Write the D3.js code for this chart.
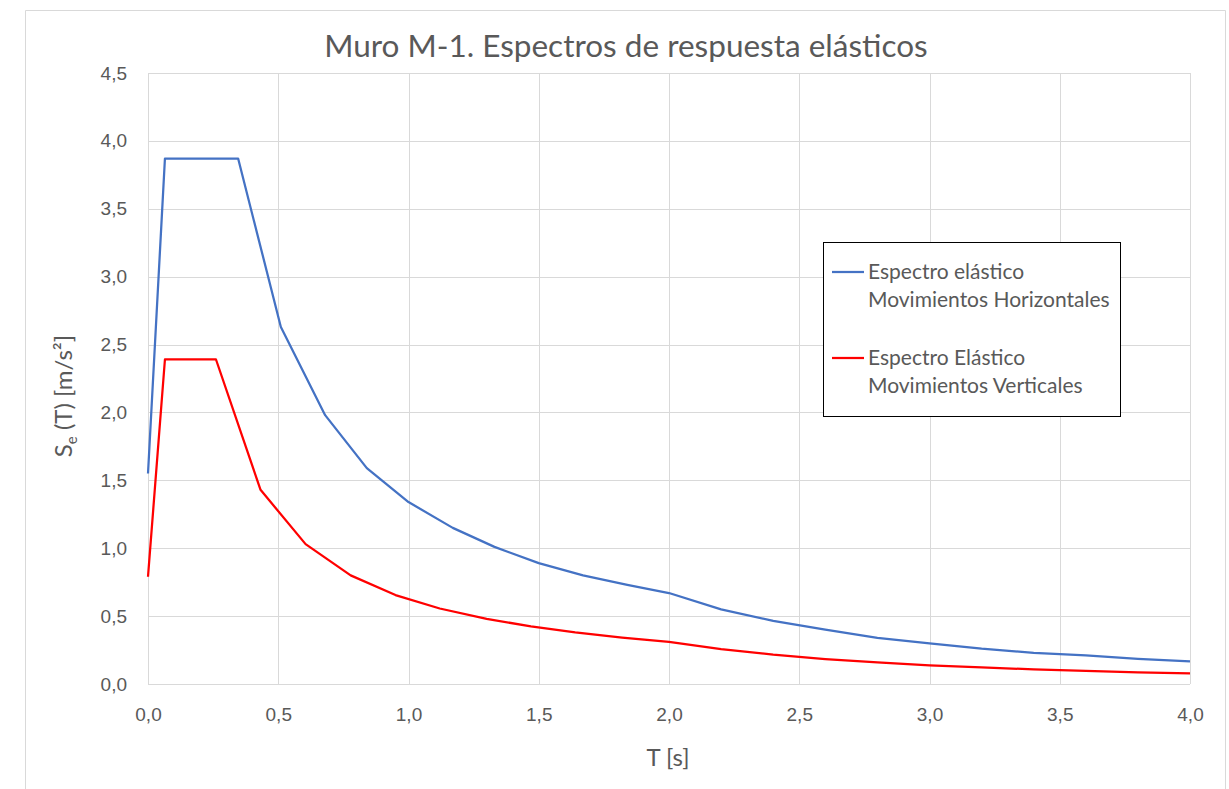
<!DOCTYPE html>
<html>
<head>
<meta charset="utf-8">
<script src="https://cdn.jsdelivr.net/npm/d3@7"></script>
<style>
  body { margin: 0; background: #fff; }
  svg { font-family: "Lato", "Open Sans", sans-serif; }
  .grid line { stroke: #d9d9d9; stroke-width: 1; }
  .tick text { fill: #595959; font-size: 19px; }
</style>
</head>
<body>
<svg id="chart" width="1229" height="789"></svg>
<script>
// periodos y ordenadas
const tH = [0, 0.065, 0.346, 0.51, 0.68, 0.84, 1.0, 1.17, 1.33, 1.5, 1.67, 1.84, 2.0,
  2.2, 2.4, 2.6, 2.8, 3.0, 3.2, 3.4, 3.6, 3.8, 4.0];
const seH = [1.55, 3.87, 3.87, 2.63, 1.98, 1.59, 1.34, 1.15, 1.01, 0.89, 0.80, 0.73, 0.67,
  0.55, 0.465, 0.40, 0.34, 0.30, 0.26, 0.23, 0.21, 0.185, 0.167];

const tV = [0, 0.065, 0.261, 0.432, 0.605, 0.778, 0.95, 1.12, 1.3, 1.47, 1.64, 1.82, 2.0,
  2.2, 2.4, 2.6, 2.8, 3.0, 3.2, 3.4, 3.6, 3.8, 4.0];
const seV = [0.79, 2.39, 2.39, 1.43, 1.03, 0.80, 0.655, 0.556, 0.48, 0.424, 0.38, 0.342, 0.31,
  0.257, 0.216, 0.184, 0.159, 0.138, 0.122, 0.108, 0.096, 0.086, 0.078];

const xTicks = [0, 0.5, 1, 1.5, 2, 2.5, 3, 3.5, 4];
const yTicks = [0, 0.5, 1, 1.5, 2, 2.5, 3, 3.5, 4, 4.5];

const series = [
  { name: ["Espectro elástico", "Movimientos Horizontales"], t: tH, v: seH, color: "#4472c4" },
  { name: ["Espectro Elástico", "Movimientos Verticales"], t: tV, v: seV, color: "#ff0000" }
];

const svg = d3.select("#chart");
const fmt = d => d.toFixed(1).replace(".", ",");

let x = d3.scaleLinear().domain([0, 4]).range([148, 1190]);
let y = d3.scaleLinear().domain([0, 4.5]).range([684, 73]);

// marco del grafico
svg.append("path")
  .attr("d", "M25.5,800 V10.5 H1225.5 V800")
  .attr("fill", "none")
  .attr("stroke", "#d9d9d9");

svg.append("text")
  .attr("x", 626).attr("y", 57)
  .attr("text-anchor", "middle")
  .attr("fill", "#595959")
  .attr("font-size", 31.5)
  .text("Muro M-1. Espectros de respuesta elásticos");

// rejilla
svg.append("g").attr("class", "grid")
  .selectAll("line.v").data(xTicks).join("line")
  .attr("x1", d => Math.round(x(d)) + 0.5).attr("x2", d => Math.round(x(d)) + 0.5)
  .attr("y1", y(4.5)).attr("y2", y(0));
svg.append("g").attr("class", "grid")
  .selectAll("line.h").data(yTicks).join("line")
  .attr("y1", d => Math.round(y(d)) + 0.5).attr("y2", d => Math.round(y(d)) + 0.5)
  .attr("x1", x(0)).attr("x2", x(4));

// ejes
let xAxis = svg.append("g")
  .attr("transform", `translate(0,${y(0)})`)
  .call(d3.axisBottom(x).tickValues(xTicks).tickFormat(fmt).tickSize(0).tickPadding(24));
xAxis.select(".domain").remove();

let yAxis = svg.append("g")
  .attr("transform", `translate(${x(0)},0)`)
  .call(d3.axisLeft(y).tickValues(yTicks).tickFormat(fmt).tickSize(0).tickPadding(21));
yAxis.select(".domain").remove();

svg.append("text")
  .attr("x", 668).attr("y", 766)
  .attr("text-anchor", "middle")
  .attr("fill", "#595959")
  .attr("font-size", 24)
  .text("T [s]");

let yt = svg.append("text")
  .attr("transform", "translate(72,396) rotate(-90)")
  .attr("text-anchor", "middle")
  .attr("fill", "#595959")
  .attr("font-size", 24);
yt.append("tspan").text("S");
yt.append("tspan").attr("font-size", 15).attr("dy", 5).text("e");
yt.append("tspan").attr("dy", -5).text(" (T) [m/s²]");

// curvas
const line = d3.line().x(d => x(d[0])).y(d => y(d[1]));
series.forEach(s => {
  svg.append("path")
    .datum(s.t.map((t, i) => [t, s.v[i]]))
    .attr("fill", "none")
    .attr("stroke", s.color)
    .attr("stroke-width", 2.25)
    .attr("stroke-linejoin", "round")
    .attr("d", line);
});

// leyenda
let legend = svg.append("g").attr("transform", "translate(823,242)");
legend.append("rect")
  .attr("x", 0.5).attr("y", 0.5)
  .attr("width", 297).attr("height", 174)
  .attr("fill", "#fff")
  .attr("stroke", "#000");

series.forEach((s, i) => {
  let g = legend.append("g").attr("transform", `translate(0,${30 + i * 86})`);
  g.append("line")
    .attr("x1", 9).attr("x2", 41)
    .attr("stroke", s.color).attr("stroke-width", 2.25);
  s.name.forEach((n, j) => {
    g.append("text")
      .attr("x", 45).attr("y", 7 + j * 28)
      .attr("fill", "#595959")
      .attr("font-size", 21)
      .text(n);
  });
});
</script>
</body>
</html>
